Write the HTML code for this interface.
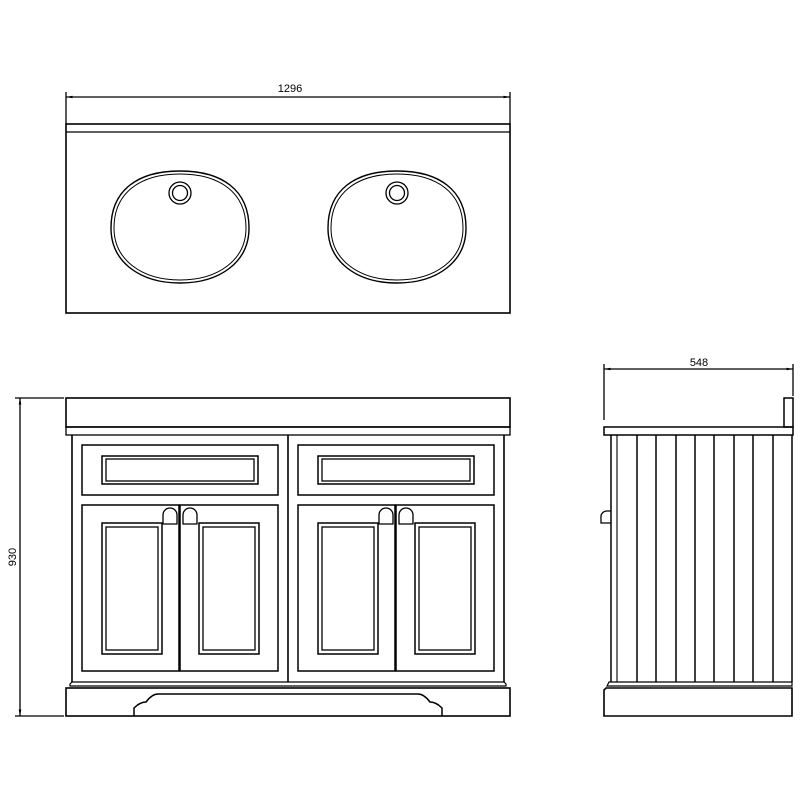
<!DOCTYPE html>
<html><head><style>html,body{margin:0;padding:0;background:#fff}svg{display:block}</style></head>
<body>
<svg width="800" height="800" viewBox="0 0 800 800" xmlns="http://www.w3.org/2000/svg" fill="none" stroke="#000" stroke-width="1.3">
<defs>
<marker id="a" viewBox="0 0 10 10" refX="10" refY="5" markerWidth="8" markerHeight="5" orient="auto-start-reverse"><path d="M0,3L10,5L0,7z" fill="#000" stroke="none"/></marker>
</defs>
<!-- TOP VIEW -->
<line x1="66" y1="92" x2="66" y2="124"/>
<line x1="510" y1="92" x2="510" y2="124"/>
<line x1="66" y1="97" x2="510" y2="97" marker-start="url(#a)" marker-end="url(#a)"/>
<text x="290" y="92" font-family="Liberation Sans, sans-serif" font-size="11" fill="#000" stroke="none" text-anchor="middle">1296</text>
<rect x="66" y="124" width="444" height="189" stroke-width="1.6"/>
<line x1="66" y1="132" x2="510" y2="132"/>
<g id="sink">
<path d="M180,171 C222,171 249,190 249,228 C249,262 220,283 180,283 C140,283 111,262 111,228 C111,190 138,171 180,171Z" stroke-width="1.4"/>
<path d="M180,174 C219,174 246,192 246,228 C246,260 218,280 180,280 C142,280 114,260 114,228 C114,192 141,174 180,174Z" stroke-width="1"/>
<circle cx="180" cy="193" r="11"/>
<circle cx="180" cy="193" r="7.5"/>
</g>
<use href="#sink" x="217"/>
<!-- FRONT VIEW -->
<line x1="15" y1="398" x2="64" y2="398"/>
<line x1="15" y1="716" x2="64" y2="716"/>
<line x1="20" y1="398" x2="20" y2="716" marker-start="url(#a)" marker-end="url(#a)"/>
<text x="16" y="557" font-family="Liberation Sans, sans-serif" font-size="11" fill="#000" stroke="none" text-anchor="middle" transform="rotate(-90 16 557)">930</text>
<rect x="66" y="398" width="444" height="29" stroke-width="1.6"/>
<rect x="66" y="427" width="444" height="8"/>
<line x1="72" y1="435" x2="72" y2="682" stroke-width="1.6"/>
<line x1="504" y1="435" x2="504" y2="682" stroke-width="1.6"/>
<line x1="288" y1="435" x2="288" y2="682" stroke-width="1.6"/>
<g id="half">
<rect x="82" y="445" width="196" height="50" stroke-width="1.5"/>
<rect x="102" y="456" width="156" height="28" stroke-width="1.5"/>
<rect x="106" y="459" width="148" height="22"/>
<rect x="82" y="505" width="97" height="166" stroke-width="1.5"/>
<rect x="180" y="505" width="98" height="166" stroke-width="1.5"/>
<rect x="102" y="523" width="60" height="131" stroke-width="1.5"/>
<rect x="106" y="527" width="52" height="123"/>
<rect x="199" y="523" width="60" height="131" stroke-width="1.5"/>
<rect x="203" y="527" width="52" height="123"/>
<path d="M163,524 L163,515 A7,7 0 0 1 177,515 L177,524 Z"/>
<path d="M183,524 L183,515 A7,7 0 0 1 197,515 L197,524 Z"/>
</g>
<use href="#half" x="216"/>
<path d="M72,682 L504,682 L506,684 L506,686 L70,686 L70,684 Z" stroke-width="1.2"/>
<rect x="66" y="688" width="444" height="28" stroke-width="1.6"/>
<path d="M134,716 L134,708 Q140,702 146,702 Q152,694 158,694 L418,694 Q424,694 430,702 Q436,702 442,708 L442,716" stroke-width="1.5"/>
<!-- SIDE VIEW -->
<line x1="604" y1="364" x2="604" y2="420"/>
<line x1="793" y1="364" x2="793" y2="396"/>
<line x1="604" y1="369" x2="793" y2="369" marker-start="url(#a)" marker-end="url(#a)"/>
<text x="699" y="366" font-family="Liberation Sans, sans-serif" font-size="11" fill="#000" stroke="none" text-anchor="middle">548</text>
<rect x="784" y="398" width="9" height="29" stroke-width="1.5"/>
<rect x="604" y="427" width="189" height="8" stroke-width="1.5"/>
<g stroke-width="1.5">
<line x1="611" y1="435" x2="611" y2="682"/>
<line x1="617" y1="435" x2="617" y2="682" stroke-width="1.1"/>
<line x1="637" y1="435" x2="637" y2="682"/>
<line x1="656" y1="435" x2="656" y2="682"/>
<line x1="676" y1="435" x2="676" y2="682"/>
<line x1="695" y1="435" x2="695" y2="682"/>
<line x1="714" y1="435" x2="714" y2="682"/>
<line x1="734" y1="435" x2="734" y2="682"/>
<line x1="753" y1="435" x2="753" y2="682"/>
<line x1="773" y1="435" x2="773" y2="682"/>
<line x1="792" y1="435" x2="792" y2="682"/>
</g>
<path d="M611,523 L601,523 L601,518 A6,6 0 0 1 607,511 L611,511" stroke-width="1.3"/>
<path d="M609,682 L792,682 L792,686 L607,686 Z" stroke-width="1.2"/>
<path d="M606,688 L792,688 L792,716 L604,716 L604,690 Z" stroke-width="1.6"/>
</svg>
</body></html>
